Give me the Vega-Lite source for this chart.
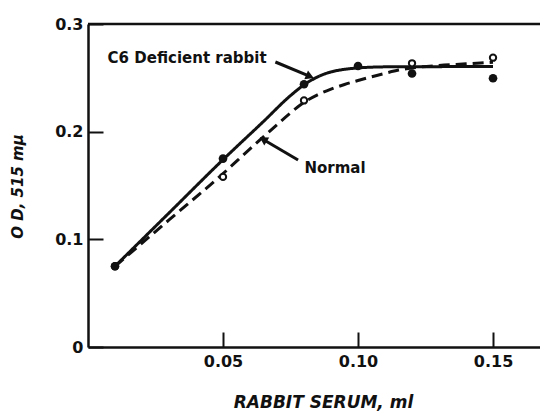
{
  "$schema": "https://vega.github.io/schema/vega-lite/v6.json",
  "width": 452,
  "height": 323,
  "autosize": {"type": "none"},
  "padding": {"left": 88, "top": 24, "right": 0, "bottom": 69},
  "background": "white",
  "config": {"view": {"stroke": null}, "font": "DejaVu Sans"},
  "datasets": {
    "points": [
      {"series": "Normal", "x": 0.01, "y": 0.075},
      {"series": "Normal", "x": 0.05, "y": 0.158},
      {"series": "Normal", "x": 0.08, "y": 0.229},
      {"series": "Normal", "x": 0.12, "y": 0.2635},
      {"series": "Normal", "x": 0.15, "y": 0.2687},
      {"series": "C6 Deficient rabbit", "x": 0.01, "y": 0.075},
      {"series": "C6 Deficient rabbit", "x": 0.05, "y": 0.175},
      {"series": "C6 Deficient rabbit", "x": 0.08, "y": 0.244},
      {"series": "C6 Deficient rabbit", "x": 0.10, "y": 0.261},
      {"series": "C6 Deficient rabbit", "x": 0.12, "y": 0.254},
      {"series": "C6 Deficient rabbit", "x": 0.15, "y": 0.2496}
    ],
    "curves": [
      {"series": "C6 Deficient rabbit", "x": 0.01, "y": 0.075},
      {"series": "C6 Deficient rabbit", "x": 0.03, "y": 0.1245},
      {"series": "C6 Deficient rabbit", "x": 0.05, "y": 0.174},
      {"series": "C6 Deficient rabbit", "x": 0.065, "y": 0.2095},
      {"series": "C6 Deficient rabbit", "x": 0.075, "y": 0.2335},
      {"series": "C6 Deficient rabbit", "x": 0.08, "y": 0.2435},
      {"series": "C6 Deficient rabbit", "x": 0.0825, "y": 0.2475},
      {"series": "C6 Deficient rabbit", "x": 0.085, "y": 0.2508},
      {"series": "C6 Deficient rabbit", "x": 0.0875, "y": 0.2535},
      {"series": "C6 Deficient rabbit", "x": 0.09, "y": 0.2555},
      {"series": "C6 Deficient rabbit", "x": 0.095, "y": 0.2579},
      {"series": "C6 Deficient rabbit", "x": 0.10, "y": 0.2592},
      {"series": "C6 Deficient rabbit", "x": 0.105, "y": 0.2599},
      {"series": "C6 Deficient rabbit", "x": 0.11, "y": 0.2602},
      {"series": "C6 Deficient rabbit", "x": 0.13, "y": 0.2604},
      {"series": "C6 Deficient rabbit", "x": 0.15, "y": 0.2606},
      {"series": "Normal", "x": 0.01, "y": 0.075},
      {"series": "Normal", "x": 0.03, "y": 0.118},
      {"series": "Normal", "x": 0.05, "y": 0.161},
      {"series": "Normal", "x": 0.06, "y": 0.184},
      {"series": "Normal", "x": 0.07, "y": 0.2065},
      {"series": "Normal", "x": 0.075, "y": 0.2175},
      {"series": "Normal", "x": 0.08, "y": 0.2272},
      {"series": "Normal", "x": 0.085, "y": 0.2342},
      {"series": "Normal", "x": 0.09, "y": 0.2395},
      {"series": "Normal", "x": 0.095, "y": 0.2438},
      {"series": "Normal", "x": 0.10, "y": 0.2475},
      {"series": "Normal", "x": 0.105, "y": 0.251},
      {"series": "Normal", "x": 0.11, "y": 0.2542},
      {"series": "Normal", "x": 0.115, "y": 0.2572},
      {"series": "Normal", "x": 0.12, "y": 0.2592},
      {"series": "Normal", "x": 0.13, "y": 0.2615},
      {"series": "Normal", "x": 0.14, "y": 0.263},
      {"series": "Normal", "x": 0.15, "y": 0.2645}
    ],
    "notes": [
      {"label": "C6 Deficient rabbit", "x": 0.0367, "y": 0.2684, "ax": 0.0694, "ay": 0.2647, "tx": 0.0822, "ty": 0.2513},
      {"label": "Normal", "x": 0.0915, "y": 0.1663, "ax": 0.0778, "ay": 0.1737, "tx": 0.0649, "ty": 0.1928}
    ]
  },
  "layer": [
    {
      "data": {"name": "curves"},
      "mark": {"type": "line", "strokeWidth": 3, "color": "#111", "interpolate": "monotone"},
      "encoding": {
        "x": {
          "field": "x", "type": "quantitative",
          "scale": {"domain": [0, 0.1674], "nice": false, "zero": true},
          "axis": {
            "orient": "bottom", "values": [0.05, 0.1, 0.15], "format": ".2f", "grid": false,
            "domainWidth": 2.5, "domainColor": "#111",
            "tickSize": -15, "tickWidth": 2, "tickColor": "#111",
            "labelFont": "DejaVu Sans", "labelFontWeight": "bold", "labelFontSize": 16, "labelColor": "#111",
            "labelPadding": 21, "labelFlush": false,
            "title": "RABBIT SERUM, ml", "titleFont": "DejaVu Sans", "titleFontStyle": "italic", "titleFontWeight": "bold",
            "titleFontSize": 17, "titleColor": "#111", "titleX": 235, "titleY": 55, "titleBaseline": "middle", "titleAlign": "center"
          }
        },
        "y": {
          "field": "y", "type": "quantitative",
          "scale": {"domain": [0, 0.3], "nice": false},
          "axis": {
            "values": [0, 0.1, 0.2, 0.3], "labelExpr": "datum.value == 0 ? '0' : format(datum.value, '.1f')", "grid": false,
            "domainWidth": 2.5, "domainColor": "#111",
            "tickSize": -15, "tickWidth": 2, "tickColor": "#111",
            "labelFont": "DejaVu Sans", "labelFontWeight": "bold", "labelFontSize": 16, "labelColor": "#111",
            "labelPadding": 20, "labelFlush": false,
            "title": "O D, 515 mμ", "titleFont": "DejaVu Sans", "titleFontStyle": "italic", "titleFontWeight": "bold",
            "titleFontSize": 15, "titleColor": "#111", "titleX": -71, "titleY": 162, "titleAngle": 270, "titleBaseline": "middle", "titleAlign": "center"
          }
        },
        "detail": {"field": "series"},
        "strokeDash": {
          "field": "series", "type": "nominal",
          "scale": {"domain": ["C6 Deficient rabbit", "Normal"], "range": [[1, 0], [11, 6]]},
          "legend": null
        }
      }
    },
    {
      "data": {"name": "points"},
      "transform": [{"filter": "datum.series == 'Normal'"}],
      "mark": {"type": "point", "shape": "circle", "filled": false, "fill": "white", "stroke": "#111", "strokeWidth": 2, "size": 40, "opacity": 1},
      "encoding": {
        "x": {"field": "x", "type": "quantitative"},
        "y": {"field": "y", "type": "quantitative"}
      }
    },
    {
      "data": {"name": "points"},
      "transform": [{"filter": "datum.series != 'Normal'"}],
      "mark": {"type": "point", "shape": "circle", "filled": true, "color": "#111", "size": 75, "opacity": 1},
      "encoding": {
        "x": {"field": "x", "type": "quantitative"},
        "y": {"field": "y", "type": "quantitative"}
      }
    },
    {
      "data": {"name": "notes"},
      "mark": {"type": "text", "font": "DejaVu Sans", "fontWeight": "bold", "fontSize": 15, "color": "#111", "align": "center", "baseline": "middle"},
      "encoding": {
        "x": {"field": "x", "type": "quantitative"},
        "y": {"field": "y", "type": "quantitative"},
        "text": {"field": "label"}
      }
    },
    {
      "data": {"name": "notes"},
      "mark": {"type": "rule", "strokeWidth": 3, "color": "#111"},
      "encoding": {
        "x": {"field": "ax", "type": "quantitative"},
        "y": {"field": "ay", "type": "quantitative"},
        "x2": {"field": "tx"},
        "y2": {"field": "ty"}
      }
    },
    {
      "data": {"name": "notes"},
      "transform": [{"filter": "datum.label != 'Normal'"}],
      "mark": {"type": "point", "shape": "triangle-up", "filled": true, "color": "#111", "size": 90, "angle": 112.6, "opacity": 1},
      "encoding": {
        "x": {"field": "tx", "type": "quantitative"},
        "y": {"field": "ty", "type": "quantitative"}
      }
    },
    {
      "data": {"name": "notes"},
      "transform": [{"filter": "datum.label == 'Normal'"}],
      "mark": {"type": "point", "shape": "triangle-up", "filled": true, "color": "#111", "size": 90, "angle": 301.4, "opacity": 1},
      "encoding": {
        "x": {"field": "tx", "type": "quantitative"},
        "y": {"field": "ty", "type": "quantitative"}
      }
    },
    {
      "data": {"values": [{}]},
      "mark": {"type": "rule", "strokeWidth": 2.5, "color": "#111"},
      "encoding": {"y": {"datum": 0.3, "type": "quantitative"}}
    }
  ]
}
